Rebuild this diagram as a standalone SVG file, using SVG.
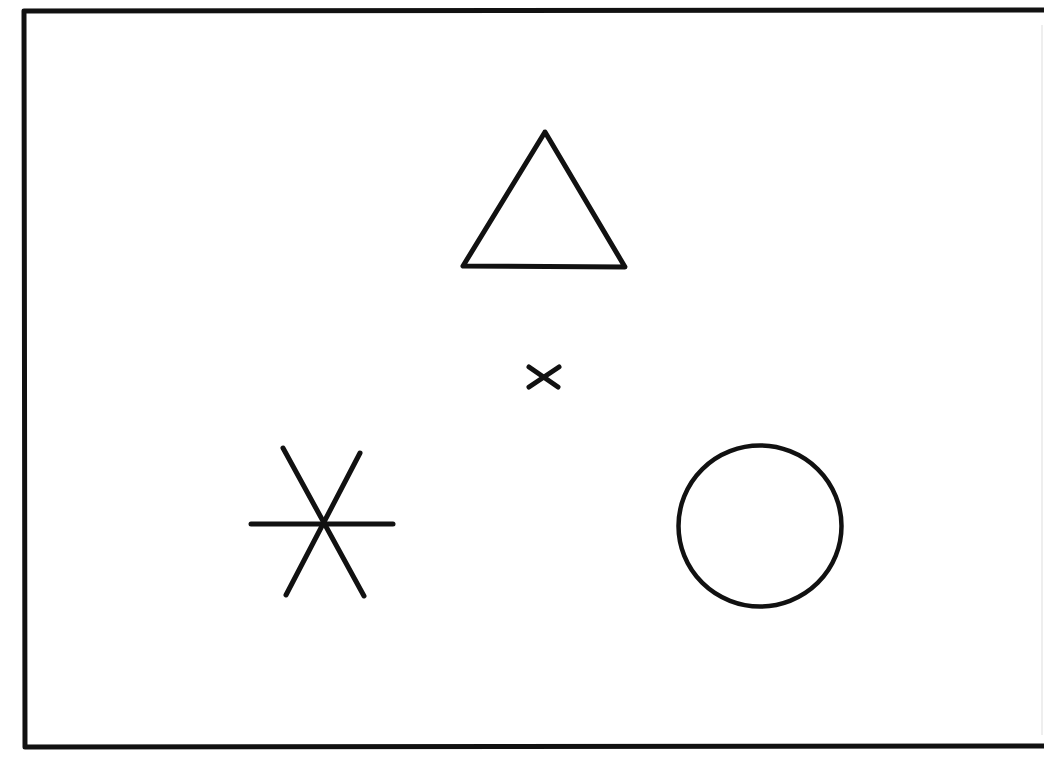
<svg xmlns="http://www.w3.org/2000/svg" width="1044" height="762" viewBox="0 0 1044 762">
<style>
.ink{fill:none;stroke:#111;stroke-linecap:round;stroke-linejoin:round}
</style>
<rect width="1044" height="762" fill="#fff"/>
<g id="frame">
<path class="ink" d="M1050,10 L24,11 L25,747 L1050,746" stroke-width="5" stroke-linecap="butt"/>
<line x1="1042" y1="25" x2="1042" y2="735" stroke="#ddd" stroke-width="1"/>
</g>
<g id="triangle">
<polygon class="ink" points="545,132 463,266 625,267" stroke-width="5"/>
</g>
<g id="center-mark">
<line class="ink" x1="529" y1="367" x2="558" y2="387" stroke-width="5"/>
<line class="ink" x1="559" y1="367" x2="529" y2="387" stroke-width="5"/>
</g>
<g id="asterisk">
<line class="ink" x1="251" y1="524" x2="393" y2="524" stroke-width="5"/>
<line class="ink" x1="283" y1="448" x2="364" y2="596" stroke-width="5"/>
<line class="ink" x1="360" y1="453" x2="286" y2="595" stroke-width="5"/>
</g>
<g id="circle">
<ellipse class="ink" cx="760" cy="526" rx="81.5" ry="80.5" stroke-width="4.5"/>
</g>
</svg>
